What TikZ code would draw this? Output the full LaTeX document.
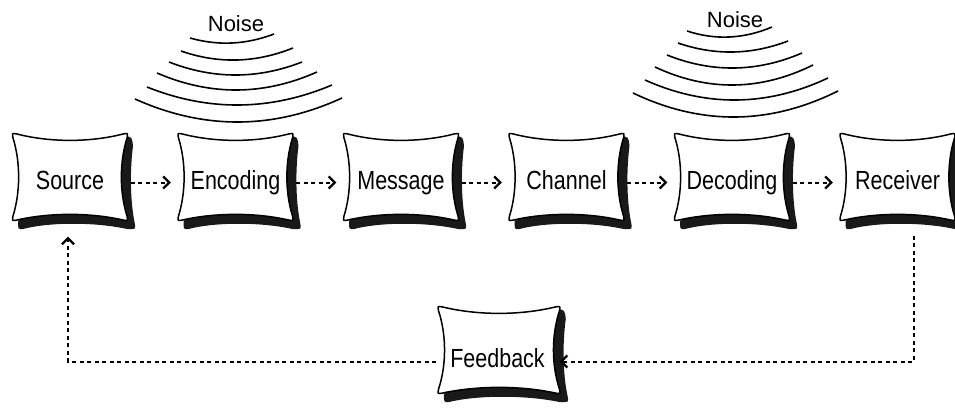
\documentclass[tikz,border=0pt]{standalone}
\usepackage{fontspec}
\setmainfont{Liberation Sans}
\usetikzlibrary{arrows.meta,calc}
\newcommand\stretchlbl[1]{\scalebox{1}[1.22]{#1}}
\newcommand\wavearc[5]{%
  \draw[wave] (#1,#2) .. controls ($(#1,#2)!0.6667!({(#1+#3)/2},{2*#5-(#2+#4)/2})$)
    and ($(#3,#4)!0.6667!({(#1+#3)/2},{2*#5-(#2+#4)/2})$) .. (#3,#4);}
\tikzset{
  cushtext/.style={inner sep=0pt, minimum width=115pt, minimum height=86pt,
    text height=18pt, text depth=5pt, font=\fontsize{21.5}{24}\selectfont},
  noisetext/.style={inner sep=0pt, font=\fontsize{22}{24}\selectfont},
  flow/.style={line width=2pt, dash pattern=on 4pt off 3.5pt,
    -{Straight Barb[length=6pt,width=12pt,line width=2.3pt]}},
  wave/.style={line width=1.6pt},
  cushion/.pic={
    \fill[black!90]
      (55,-41) .. controls (62,-40) .. (63,-31)
      .. controls (60,-8) and (60,22) .. (64.5,45)
      .. controls (66,52.5) .. (57,52)
      .. controls (25,45) and (-20,45) .. (-47,52)
      .. controls (-52,52.5) .. (-52,44) -- (0,0) -- cycle;
    \draw[line width=1.5pt, fill=white, line join=round]
      (-53,-43) .. controls (-20,-34.5) and (20,-34.5) .. (53,-43)
      .. controls (58,-44) .. (57,-39)
      .. controls (49.5,-15) and (49.5,15) .. (57,39)
      .. controls (58,44) .. (53,43)
      .. controls (20,35.5) and (-20,35.5) .. (-53,43)
      .. controls (-58,44) .. (-57,39)
      .. controls (-49.5,15) and (-49.5,-15) .. (-57,-39)
      .. controls (-58,-44) .. cycle;
  }
}
\begin{document}
\begin{tikzpicture}[x=1pt, y=-1pt]
\useasboundingbox (0,0) rectangle (955,409);
\clip (0,0) rectangle (955,409);

% boxes
\foreach \x/\n/\t in {70/src/Source, 235.5/enc/Encoding, 401/msg/Message,
                      566.5/chn/Channel, 732/dec/Decoding, 897.5/rec/Receiver} {
  \pic at (\x,177) {cushion};
  \node[cushtext] (\n) at (\x,182.5) {\stretchlbl{\t}};
}
\pic[xscale=1.06] at (499,350) {cushion};
\node[cushtext, minimum width=122pt] (fb) at (497.5,360.5) {\stretchlbl{Feedback}};

% flow arrows
\foreach \a/\b in {src/enc, enc/msg, msg/chn, chn/dec, dec/rec} {
  \draw[flow] ([xshift=3pt]\a.east) -- ([xshift=-7pt]\b.west);
}
\draw[flow] ([xshift=16.5pt,yshift=-10pt]rec.south) |- ([xshift=1pt,yshift=-1pt]fb.east);
\draw[flow] ([yshift=-1pt]fb.west) -| ([xshift=-2pt,yshift=-11pt]src.south);

% noise (left)
\node[noisetext] (noise1) at (236,24) {Noise};
\wavearc{190}{38}{274}{34}{43}
\wavearc{181}{51}{293}{48}{60}
\wavearc{169}{62}{302}{62}{75}
\wavearc{157}{73}{317}{72}{90}
\wavearc{147}{87}{332}{85}{105}
\wavearc{135}{99}{342}{98}{122}

% noise (right)
\node[noisetext] (noise2) at (735,20) {Noise};
\wavearc{687}{31}{772}{27}{37}
\wavearc{678}{43}{788}{41}{52}
\wavearc{667}{55}{802}{53}{68}
\wavearc{655}{67}{813}{65}{85}
\wavearc{645}{80}{828}{78}{100}
\wavearc{633}{93}{838}{91}{117}
\end{tikzpicture}
\end{document}
